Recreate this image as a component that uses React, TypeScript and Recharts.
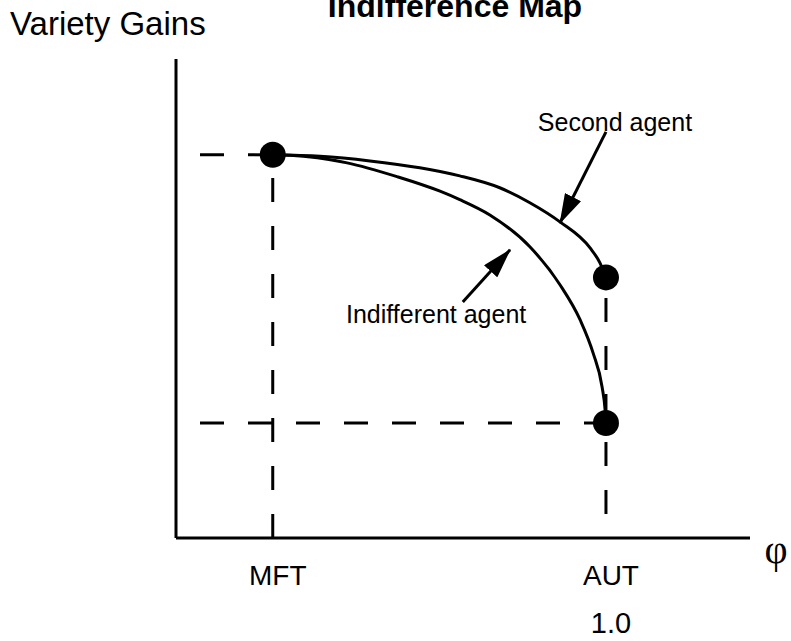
import React from "react";
import {
  ComposedChart,
  Line,
  Scatter,
  XAxis,
  YAxis,
  ReferenceLine,
  ReferenceDot,
} from "recharts";

// phi axis: MFT .. AUT (AUT = 1.0)
const xTicks = [0.225, 1.0];
const xTickLabels = ["MFT", "AUT"];
const xTickSubLabels = ["", "1.0"];

// variety gains at the regime points
const regimeX = [0.225, 1.0, 1.0];
const regimeY = [1.0, 0.68, 0.3];

// curves
const secondAgentX = [0.225, 0.335, 0.451, 0.567, 0.66, 0.753, 0.823, 0.893, 0.963, 0.986, 1.0];
const secondAgentY = [1.0, 0.996, 0.984, 0.966, 0.945, 0.914, 0.875, 0.825, 0.757, 0.718, 0.68];
const indifferentX = [0.225, 0.265, 0.398, 0.514, 0.614, 0.66, 0.73, 0.823, 0.893, 0.94, 0.97, 0.991, 0.998, 1.0];
const indifferentY = [1.0, 0.999, 0.979, 0.943, 0.905, 0.883, 0.843, 0.76, 0.661, 0.569, 0.483, 0.394, 0.334, 0.3];

// annotation arrows: [tailX, tailY, tipX, tipY]
const secondArrow = [1.0, 1.06, 0.893, 0.822];
const indifferentArrow = [0.667, 0.616, 0.777, 0.752];
const secondLabelPos = [1.021, 1.084];
const indifferentLabelPos = [0.605, 0.585];

const FONT = "'Liberation Sans', Arial, Helvetica, sans-serif";

const zip = (xs: number[], ys: number[]) => xs.map((x, i) => ({ x, y: ys[i] }));

const secondAgent = zip(secondAgentX, secondAgentY);
const indifferent = zip(indifferentX, indifferentY);
const regimes = zip(regimeX, regimeY);

function XTick(props: any) {
  const { x, y, payload } = props;
  const i = xTicks.indexOf(payload.value);
  return (
    <g>
      <text x={x + 5} y={y} dy={47} textAnchor="middle" fontFamily={FONT} fontSize={28} fill="#000">
        {xTickLabels[i]}
      </text>
      {xTickSubLabels[i] ? (
        <text x={x + 5} y={y} dy={95} textAnchor="middle" fontFamily={FONT} fontSize={29} fill="#000">
          {xTickSubLabels[i]}
        </text>
      ) : null}
    </g>
  );
}

const dashed = { stroke: "#000", strokeWidth: 3, strokeDasharray: "24 24" };
const labelStyle = { fontFamily: FONT, fontSize: 25, fill: "#000" };

export default function App() {
  return (
    <div style={{ position: "absolute", left: 0, top: 0, background: "#fff" }}>
      <svg width={0} height={0} style={{ position: "absolute" }}>
        <defs>
          <marker
            id="arrowHead"
            markerUnits="userSpaceOnUse"
            markerWidth={30}
            markerHeight={18}
            refX={29}
            refY={9}
            orient="auto"
          >
            <path d="M0,0 L30,9 L0,18 z" fill="#000" />
          </marker>
        </defs>
      </svg>
      <ComposedChart
        width={791}
        height={641}
        margin={{ top: 59, right: 41, bottom: 0, left: 175 }}
      >
        <text x={455} y={17} textAnchor="middle" fontFamily={FONT} fontSize={32} fontWeight="bold" fill="#000">
          Indifference Map
        </text>
        <text x={10} y={35} fontFamily={FONT} fontSize={33} fill="#000">
          Variety Gains
        </text>
        <text x={776} y={563} textAnchor="middle" fontFamily="'Liberation Serif', 'Times New Roman', serif" fontSize={40} fill="#000">
          φ
        </text>
        <XAxis
          type="number"
          dataKey="x"
          domain={[0, 1.335]}
          allowDataOverflow
          ticks={xTicks}
          tick={<XTick />}
          tickLine={false}
          tickSize={0}
          tickMargin={0}
          height={103}
          axisLine={{ stroke: "#000", strokeWidth: 3 }}
        />
        <YAxis
          type="number"
          dataKey="y"
          domain={[0, 1.25]}
          allowDataOverflow
          width={1}
          tick={false}
          tickLine={false}
          axisLine={{ stroke: "#000", strokeWidth: 3 }}
        />
        <ReferenceLine segment={[{ x: 0, y: regimeY[0] }, { x: regimeX[0], y: regimeY[0] }]} {...dashed} strokeDashoffset={24} />
        <ReferenceLine segment={[{ x: regimeX[0], y: 0 }, { x: regimeX[0], y: regimeY[0] }]} {...dashed} />
        <ReferenceLine segment={[{ x: 0, y: regimeY[2] }, { x: regimeX[2], y: regimeY[2] }]} {...dashed} strokeDashoffset={24} />
        <ReferenceLine segment={[{ x: regimeX[1], y: 0 }, { x: regimeX[1], y: regimeY[1] }]} {...dashed} strokeDashoffset={24} />
        <Line
          data={secondAgent}
          dataKey="y"
          type="monotoneX"
          stroke="#000"
          strokeWidth={3}
          dot={false}
          isAnimationActive={false}
        />
        <Line
          data={indifferent}
          dataKey="y"
          type="monotoneX"
          stroke="#000"
          strokeWidth={3}
          dot={false}
          isAnimationActive={false}
        />
        <ReferenceLine
          segment={[{ x: secondArrow[0], y: secondArrow[1] }, { x: secondArrow[2], y: secondArrow[3] }]}
          stroke="#000"
          strokeWidth={3}
          markerEnd="url(#arrowHead)"
        />
        <ReferenceLine
          segment={[{ x: indifferentArrow[0], y: indifferentArrow[1] }, { x: indifferentArrow[2], y: indifferentArrow[3] }]}
          stroke="#000"
          strokeWidth={3}
          markerEnd="url(#arrowHead)"
        />
        <ReferenceDot
          x={secondLabelPos[0]}
          y={secondLabelPos[1]}
          r={1}
          fill="none"
          stroke="none"
          label={{ value: "Second agent", position: "center", ...labelStyle }}
        />
        <ReferenceDot
          x={indifferentLabelPos[0]}
          y={indifferentLabelPos[1]}
          r={1}
          fill="none"
          stroke="none"
          label={{ value: "Indifferent agent", position: "center", ...labelStyle }}
        />
        <Scatter
          data={regimes}
          dataKey="y"
          fill="#000"
          isAnimationActive={false}
          shape={(p: any) => <circle cx={p.cx} cy={p.cy} r={13} fill="#000" />}
        />
      </ComposedChart>
    </div>
  );
}
